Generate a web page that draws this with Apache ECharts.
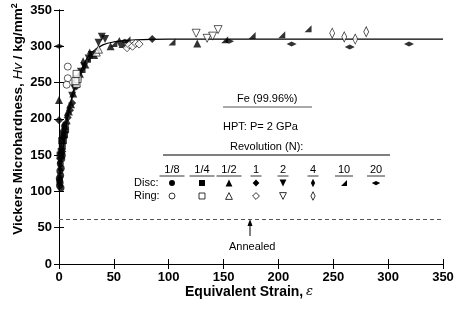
<!DOCTYPE html>
<html>
<head>
<meta charset="utf-8">
<script src="https://cdn.jsdelivr.net/npm/echarts@6/dist/echarts.min.js"></script>
<style>
  html, body { margin: 0; padding: 0; background: #fff; }
  #chart { width: 458px; height: 312px; }
</style>
</head>
<body>
<div id="chart"></div>
<script>
// axis ticks
var xTicks = [0, 50, 100, 150, 200, 250, 300, 350];
var yTicks = [0, 50, 100, 150, 200, 250, 300, 350];

// disc samples (filled), [strain, Hv]
var disc18 = [[0.5,108],[1,112],[0.3,118],[1.5,122],[0.8,128],[2,132],[1.2,138],[2.5,145],[3,150],[0.6,115],[1.8,105]];
var disc14 = [[1,150],[2,155],[3,162],[4,170],[5,178],[3.5,180],[6,185],[2.5,170]];
var disc12 = [[0,226],[5,190],[7,198],[9,210],[11,220],[13,235],[19,262],[24,275],[32,288],[47,300],[58,303],[126,304]];
var disc1 = [[0,198],[1,145],[3,155],[4,175],[6,192],[8,202],[10,212],[12,222],[16,245],[85,310]];
var disc2 = [[12,232],[14,242],[17,250],[20,265],[23,272],[27,283],[30,288],[36,305],[39,313],[42,310]];
var disc4 = [[0.5,140],[2,160],[4,190],[7,205],[9,215],[15,250],[22,278],[28,290],[55,306]];
var disc10 = [[21,268],[26,282],[34,296],[50,304],[62,309],[103,306],[151,309],[176,315],[203,316],[227,324]];
var disc20 = [[0,300],[60,307],[155,307],[212,303],[265,299],[319,303]];

// ring samples (open)
var ring18 = [[8,272],[8,256],[7,247]];
var ring14 = [[16,248],[17,255],[16,262],[15,252]];
var ring12 = [[34,292],[36,296]];
var ring1 = [[62,298],[64,302],[67,300],[70,304],[73,303]];
var ring2 = [[125,318],[135,311],[140,314],[145,323]];
var ring4 = [[249,318],[260,313],[270,310],[280,320]];

// fitted curve
var fitCurve = [[0,110],[2,140],[4,162],[6,185],[8,204],[10,219],[13,237],[16,252],[20,267],[25,282],[30,292],[40,302],[50,306],[70,309],[100,310],[350,310]];

var annealed = 62;

// legend columns
var revLabels = ['1/8', '1/4', '1/2', '1', '2', '4', '10', '20'];

var font = 'Liberation Sans, Arial, sans-serif';
var wedge = 'path://M0,10L10,10L10,0Z';

var sym = {
    '1/8': { symbol: 'circle', size: 7 },
    '1/4': { symbol: 'rect', size: 7 },
    '1/2': { symbol: 'triangle', size: 8 },
    '1': { symbol: 'diamond', size: [8, 8] },
    '2': { symbol: 'triangle', size: 8, rotate: 180 },
    '4': { symbol: 'diamond', size: [5, 10] },
    '10': { symbol: wedge, size: 7 },
    '20': { symbol: 'diamond', size: [10, 5] }
};

function pts(name, data, open) {
    var s = sym[name];
    return {
        name: name,
        type: 'scatter',
        data: data,
        symbol: s.symbol,
        symbolSize: s.size,
        symbolRotate: s.rotate || 0,
        itemStyle: open ? { color: '#fff', borderColor: '#000', borderWidth: 0.8 } : { color: '#000' },
        z: 3
    };
}

var myChart = echarts.init(document.getElementById('chart'));

// legend table + axis names drawn as graphics
var colX = [172, 202, 229, 256, 283, 313, 344, 376];
var graphics = [
    { type: 'text', left: 237, top: 93, style: { text: 'Fe (99.96%)', font: '11px ' + font, fill: '#000' } },
    { type: 'line', shape: { x1: 223, y1: 107, x2: 312, y2: 107 }, style: { stroke: '#555', lineWidth: 1 } },
    { type: 'text', left: 223, top: 121, style: { text: 'HPT: P= 2 GPa', font: '11px ' + font, fill: '#000' } },
    { type: 'text', left: 230, top: 141, style: { text: 'Revolution (N):', font: '11px ' + font, fill: '#000' } },
    { type: 'line', shape: { x1: 163, y1: 155, x2: 390, y2: 155 }, style: { stroke: '#555', lineWidth: 1.5 } },
    { type: 'text', left: 134, top: 177, style: { text: 'Disc:', font: '11px ' + font, fill: '#000' } },
    { type: 'text', left: 134, top: 190, style: { text: 'Ring:', font: '11px ' + font, fill: '#000' } },
    { type: 'text', left: 229, top: 241, style: { text: 'Annealed', font: '11px ' + font, fill: '#000' } },
    { type: 'line', shape: { x1: 250, y1: 236, x2: 250, y2: 222 }, style: { stroke: '#000', lineWidth: 1 } },
    { type: 'polygon', shape: { points: [[250, 219], [247.5, 226], [252.5, 226]] }, style: { fill: '#000' } },
    { type: 'text', left: 185, top: 285, style: { text: 'Equivalent Strain,', font: 'bold 14px ' + font, fill: '#000' } },
    { type: 'text', left: 306, top: 285, style: { text: 'ε', font: 'italic 13px DejaVu Serif', fill: '#000' } },
    {
        type: 'text', x: 18, y: 119, rotation: Math.PI / 2,
        style: {
            text: 'Vickers Microhardness, {i|Hv} / kg/mm{s|2}',
            font: 'bold 13.5px ' + font, fill: '#000', align: 'center', verticalAlign: 'middle',
            rich: {
                i: { font: 'italic 13.5px ' + font, fill: '#000' },
                s: { font: 'bold 9px ' + font, fill: '#000', verticalAlign: 'top', padding: [0, 0, 7, 0] }
            }
        }
    }
];

function legendMark(name, cx, cy, open) {
    var s = sym[name];
    var st = open ? { fill: '#fff', stroke: '#000', lineWidth: 0.8 } : { fill: '#000' };
    var w = Array.isArray(s.size) ? s.size[0] : s.size;
    var h = Array.isArray(s.size) ? s.size[1] : s.size;
    w *= 0.85; h *= 0.85;
    if (s.symbol === 'circle') return { type: 'circle', shape: { cx: cx, cy: cy, r: w / 2 }, style: st };
    if (s.symbol === 'rect') return { type: 'rect', shape: { x: cx - w / 2, y: cy - h / 2, width: w, height: h }, style: st };
    if (s.symbol === 'triangle' && !s.rotate) return { type: 'polygon', shape: { points: [[cx, cy - h / 2], [cx - w / 2, cy + h / 2], [cx + w / 2, cy + h / 2]] }, style: st };
    if (s.symbol === 'triangle') return { type: 'polygon', shape: { points: [[cx, cy + h / 2], [cx - w / 2, cy - h / 2], [cx + w / 2, cy - h / 2]] }, style: st };
    if (s.symbol === 'diamond') return { type: 'polygon', shape: { points: [[cx, cy - h / 2], [cx + w / 2, cy], [cx, cy + h / 2], [cx - w / 2, cy]] }, style: st };
    return { type: 'polygon', shape: { points: [[cx - w / 2, cy + h / 2], [cx + w / 2, cy + h / 2], [cx + w / 2, cy - h / 2]] }, style: st };
}

revLabels.forEach(function (n, i) {
    var cx = colX[i];
    graphics.push({ type: 'text', x: cx, y: 170, style: { text: n, font: '11px ' + font, fill: '#000', align: 'center', verticalAlign: 'middle' } });
    var hw = n.length * 3.5 + 2;
    graphics.push({ type: 'line', shape: { x1: cx - hw, y1: 176, x2: cx + hw, y2: 176 }, style: { stroke: '#000', lineWidth: 0.8 } });
    graphics.push(legendMark(n, cx, 183, false));
    if (i < 6) graphics.push(legendMark(n, cx, 196, true));
});

var axisCommon = {
    type: 'value',
    min: 0,
    max: 350,
    interval: 50,
    axisLine: { show: true, lineStyle: { color: '#000', width: 1 } },
    axisTick: { show: true, inside: true, length: 5, lineStyle: { color: '#000' } },
    splitLine: { show: false }
};

var option = {
    animation: false,
    backgroundColor: '#fff',
    grid: { left: 59, right: 15, top: 10, bottom: 48 },
    xAxis: [
        Object.assign({}, axisCommon, {
            position: 'bottom',
            axisLabel: { color: '#000', fontFamily: font, fontWeight: 'bold', fontSize: 13, margin: 7 }
        }),
        Object.assign({}, axisCommon, { position: 'top', axisLabel: { show: false } })
    ],
    yAxis: [
        Object.assign({}, axisCommon, {
            position: 'left',
            axisLabel: { color: '#000', fontFamily: font, fontWeight: 'bold', fontSize: 13, margin: 7 }
        }),
        Object.assign({}, axisCommon, { position: 'right', axisLabel: { show: false } })
    ],
    graphic: graphics,
    series: [
        {
            type: 'line',
            data: fitCurve,
            smooth: 0.4,
            symbol: 'none',
            lineStyle: { color: '#000', width: 1.2 },
            z: 2,
            markLine: {
                silent: true,
                symbol: 'none',
                label: { show: false },
                lineStyle: { color: '#555', type: [4, 3], width: 1 },
                data: [{ yAxis: annealed }]
            }
        },
        pts('1/8', disc18, false),
        pts('1/4', disc14, false),
        pts('1/2', disc12, false),
        pts('1', disc1, false),
        pts('2', disc2, false),
        pts('4', disc4, false),
        pts('10', disc10, false),
        pts('20', disc20, false),
        pts('1/8', ring18, true),
        pts('1/4', ring14, true),
        pts('1/2', ring12, true),
        pts('1', ring1, true),
        pts('2', ring2, true),
        pts('4', ring4, true)
    ]
};

myChart.setOption(option, true);
</script>
</body>
</html>
